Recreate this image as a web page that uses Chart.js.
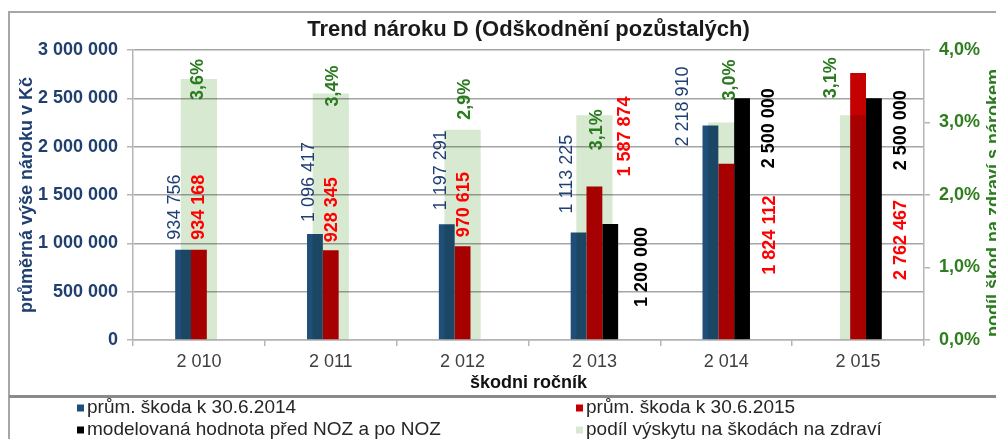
<!DOCTYPE html>
<html>
<head>
<meta charset="utf-8">
<script src="https://cdn.jsdelivr.net/npm/chart.js@4.4.0/dist/chart.umd.min.js"></script>
<style>
  html, body { margin: 0; padding: 0; background: #fff; }
</style>
</head>
<body>
<canvas id="chart" width="996" height="439"></canvas>
<script>
// values
const years = ['2 010', '2 011', '2 012', '2 013', '2 014', '2 015'];
const avgClaim2014 = [934756, 1096417, 1197291, 1113225, 2218910, null];
const avgClaim2015 = [934168, 928345, 970615, 1587874, 1824112, 2762467];
const modelValue = [null, null, null, 1200000, 2500000, 2500000];
const healthShare = [3.6, 3.4, 2.9, 3.1, 3.0, 3.1];

const seriesNames = [
  'prům. škoda k 30.6.2014',
  'prům. škoda k 30.6.2015',
  'modelovaná hodnota před NOZ a po NOZ',
  'podíl výskytu na škodách na zdraví'
];

const FONT = '"Liberation Sans", Arial, sans-serif';
Chart.defaults.font.family = FONT;

const fmtMoney = v => String(v).replace(/\B(?=(\d{3})+(?!\d))/g, ' ');
const fmtPct = v => v.toFixed(1).replace('.', ',') + '%';

// label placement, px relative to bar centre / bar top (Excel had them hand-placed)
const labelNudges = [
  [[-8, -10], [-6, -12], [-6, -14], [-12, -19], [-27, 21], null],
  [[0, -10], [1, -8], [1, -9], [31, -10], [44, 111], [43, 207]],
  [null, null, null, [32, 83], [27, 70], [27, 72]],
  [[-1, 21], [2, 13], [2, -10], [3, 35], [4, -22], [-27, -17]]
];
const labelStyles = [
  { color: '#1f3f73', weight: 'normal', fmt: fmtMoney },
  { color: '#ff0000', weight: 'bold', fmt: fmtMoney },
  { color: '#000000', weight: 'bold', fmt: fmtMoney },
  { color: '#2a7a1e', weight: 'bold', fmt: fmtPct }
];

const valueLabels = {
  id: 'valueLabels',
  afterDatasetsDraw(chart) {
    const ctx = chart.ctx;
    chart.data.datasets.forEach((ds, i) => {
      const meta = chart.getDatasetMeta(i);
      const st = labelStyles[i];
      meta.data.forEach((bar, j) => {
        const v = ds.data[j];
        const nudge = labelNudges[i][j];
        if (v == null || !nudge) return;
        ctx.save();
        ctx.translate(bar.x + nudge[0], bar.y + nudge[1]);
        ctx.rotate(-Math.PI / 2);
        ctx.font = st.weight + ' 18px ' + FONT;
        ctx.fillStyle = st.color;
        ctx.textAlign = 'left';
        ctx.textBaseline = 'middle';
        ctx.fillText(st.fmt(v), 0, 0);
        ctx.restore();
      });
    });
  }
};

// the share bars lie over the others like a tinted film
const tint = {
  id: 'tint',
  beforeDatasetDraw(chart, args) {
    if (args.index === 3) {
      chart.ctx.save();
      chart.ctx.globalCompositeOperation = 'multiply';
    }
  },
  afterDatasetDraw(chart, args) {
    if (args.index === 3) chart.ctx.restore();
  }
};

const decor = {
  id: 'decor',
  afterDraw(chart) {
    const ctx = chart.ctx;
    const a = chart.chartArea;
    ctx.save();
    // frame
    ctx.strokeStyle = '#a6a6a6';
    ctx.lineWidth = 2;
    ctx.beginPath();
    ctx.moveTo(9, 439);
    ctx.lineTo(9, 12);
    ctx.lineTo(996, 12);
    ctx.stroke();
    ctx.strokeStyle = '#8a8a8a';
    ctx.lineWidth = 3;
    ctx.beginPath();
    ctx.moveTo(9, 396.5);
    ctx.lineTo(996, 396.5);
    ctx.stroke();

    // title
    ctx.fillStyle = '#1a1a1a';
    ctx.font = 'bold 22px ' + FONT;
    ctx.textAlign = 'center';
    ctx.textBaseline = 'middle';
    ctx.fillText('Trend nároku D (Odškodnění pozůstalých)', (a.left + a.right) / 2, 30);

    // right axis title, reads upwards and runs off the edge
    ctx.save();
    ctx.translate(985, (a.top + a.bottom) / 2 + 8);
    ctx.rotate(-Math.PI / 2);
    ctx.fillStyle = '#2a7a1e';
    ctx.font = 'bold 18px ' + FONT;
    ctx.textBaseline = 'top';
    ctx.fillText('podíl škod na zdraví s nárokem', 0, 0);
    ctx.restore();

    // legend, two columns
    const cols = [77, 576];
    const rows = [408, 430];
    ctx.font = '19px ' + FONT;
    ctx.textAlign = 'left';
    ctx.textBaseline = 'middle';
    chart.data.datasets.forEach((ds, i) => {
      const x = cols[i % 2];
      const y = rows[Math.floor(i / 2)];
      ctx.fillStyle = ds.backgroundColor;
      ctx.fillRect(x, y - 3.5, 7, 7);
      ctx.fillStyle = '#262626';
      ctx.fillText(ds.label, x + 10, y);
    });
    ctx.restore();
  }
};

new Chart(document.getElementById('chart'), {
  type: 'bar',
  data: {
    labels: years,
    datasets: [
      { label: seriesNames[0], data: avgClaim2014, backgroundColor: '#1f4e79', yAxisID: 'y', order: 1 },
      { label: seriesNames[1], data: avgClaim2015, backgroundColor: '#c40000', yAxisID: 'y', order: 1 },
      { label: seriesNames[2], data: modelValue, backgroundColor: '#000000', yAxisID: 'y', order: 1 },
      { label: seriesNames[3], data: healthShare, backgroundColor: '#d8e9d2', yAxisID: 'y1', order: 0,
        grouped: false, categoryPercentage: 0.275, barPercentage: 1 }
    ]
  },
  options: {
    responsive: false,
    devicePixelRatio: 1,
    animation: false,
    categoryPercentage: 0.36,
    barPercentage: 1,
    layout: { padding: { top: 50, left: 0, right: 0, bottom: 0 } },
    plugins: {
      legend: { display: false },
      title: { display: false },
      tooltip: { enabled: false }
    },
    scales: {
      x: {
        offset: true,
        grid: { drawOnChartArea: false, offset: true, tickLength: 6, color: '#b5b5b5', lineWidth: 1.5 },
        border: { color: '#b5b5b5', width: 1.5 },
        ticks: { color: '#404040', font: { size: 18 }, padding: 5, maxRotation: 0, autoSkip: false },
        title: { display: true, text: 'škodni ročník', color: '#111111',
                 font: { size: 18, weight: 'bold' }, padding: { top: 0, bottom: 45 } },
        afterFit(s) { s.height = 99; }
      },
      y: {
        position: 'left',
        min: 0, max: 3000000,
        ticks: { stepSize: 500000, color: '#1f3f6f', font: { size: 18, weight: 'bold' }, padding: 9,
                 callback: v => fmtMoney(v) },
        grid: { color: '#a5a5a5', lineWidth: 1.5, tickLength: 6, tickColor: '#b5b5b5' },
        border: { color: '#b5b5b5', width: 1.5 },
        title: { display: true, text: 'průměrná výše nároku v Kč', color: '#1f3f6f',
                 font: { size: 18, weight: 'bold' }, padding: { top: 16, bottom: 0 } },
        afterFit(s) { s.width = 133; }
      },
      y1: {
        position: 'right',
        min: 0, max: 4,
        ticks: { stepSize: 1, color: '#2f7d1f', font: { size: 18, weight: 'bold' }, padding: 9,
                 callback: v => fmtPct(v) },
        grid: { drawOnChartArea: false, tickLength: 6, color: '#b5b5b5', lineWidth: 1.5 },
        border: { color: '#b5b5b5', width: 1.5 },
        afterFit(s) { s.width = 72; }
      }
    }
  },
  plugins: [tint, valueLabels, decor]
});
</script>
</body>
</html>
